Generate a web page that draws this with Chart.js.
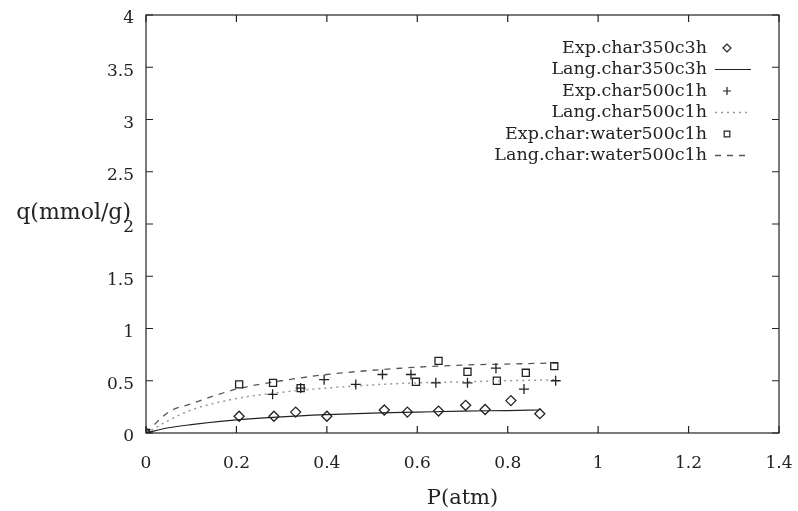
<!DOCTYPE html>
<html>
<head>
<meta charset="utf-8">
<script src="https://cdn.jsdelivr.net/npm/chart.js@4.4.1/dist/chart.umd.min.js"></script>
<style>
  html, body { margin: 0; padding: 0; background: #fff; }
  #chartContainer { width: 798px; height: 511px; }
</style>
</head>
<body>
<div id="chartContainer"><canvas id="chart"></canvas></div>
<script>
const expP350 = [0, 0.206, 0.283, 0.331, 0.40, 0.527, 0.578, 0.647, 0.707, 0.75, 0.807, 0.871];
const expQ350 = [0, 0.16, 0.16, 0.20, 0.16, 0.22, 0.20, 0.21, 0.265, 0.225, 0.31, 0.185];

const expP500 = [0, 0.28, 0.342, 0.394, 0.464, 0.523, 0.586, 0.641, 0.711, 0.774, 0.836, 0.906];
const expQ500 = [0, 0.37, 0.43, 0.51, 0.465, 0.56, 0.56, 0.48, 0.48, 0.62, 0.42, 0.50];

const expPWater = [0, 0.206, 0.281, 0.342, 0.597, 0.647, 0.711, 0.776, 0.84, 0.903];
const expQWater = [0, 0.465, 0.48, 0.43, 0.49, 0.69, 0.586, 0.50, 0.576, 0.64];

// Langmuir fit curves
const langP350 = [0, 0.05, 0.1, 0.2, 0.3, 0.4, 0.5, 0.6, 0.7, 0.8, 0.87];
const langQ350 = [0, 0.05, 0.08, 0.125, 0.155, 0.175, 0.19, 0.2, 0.21, 0.215, 0.22];

const langP500 = [0, 0.05, 0.1, 0.2, 0.3, 0.4, 0.5, 0.6, 0.7, 0.8, 0.91];
const langQ500 = [0, 0.12, 0.22, 0.33, 0.39, 0.43, 0.46, 0.48, 0.49, 0.50, 0.51];

const langPWater = [0, 0.05, 0.1, 0.2, 0.3, 0.4, 0.5, 0.6, 0.7, 0.8, 0.91];
const langQWater = [0, 0.2, 0.28, 0.42, 0.5, 0.56, 0.6, 0.63, 0.65, 0.66, 0.67];

const xTicks = [0, 0.2, 0.4, 0.6, 0.8, 1, 1.2, 1.4];
const yTicks = [0, 0.5, 1, 1.5, 2, 2.5, 3, 3.5, 4];

const serif = "'DejaVu Serif', 'Liberation Serif', serif";
const ink = "#222";

const pts = (xs, ys) => xs.map((x, i) => ({ x, y: ys[i] }));
const fmt = (v) => String(+v.toFixed(1));

const datasets = [
  {
    label: "Exp.char350c3h",
    data: pts(expP350, expQ350),
    showLine: false,
    pointStyle: "rectRot",
    pointRadius: 5,
    borderColor: ink,
    backgroundColor: "rgba(0,0,0,0)",
    borderWidth: 1.3,
  },
  {
    label: "Lang.char350c3h",
    data: pts(langP350, langQ350),
    showLine: true,
    pointRadius: 0,
    borderColor: ink,
    borderWidth: 1.2,
    cubicInterpolationMode: "monotone",
  },
  {
    label: "Exp.char500c1h",
    data: pts(expP500, expQ500),
    showLine: false,
    pointStyle: "cross",
    pointRadius: 5,
    borderColor: ink,
    borderWidth: 1.3,
  },
  {
    label: "Lang.char500c1h",
    data: pts(langP500, langQ500),
    showLine: true,
    pointRadius: 0,
    borderColor: "#999",
    borderWidth: 1.5,
    borderDash: [2, 4],
    cubicInterpolationMode: "monotone",
  },
  {
    label: "Exp.char:water500c1h",
    data: pts(expPWater, expQWater),
    showLine: false,
    pointStyle: "rect",
    pointRadius: 5,
    borderColor: ink,
    backgroundColor: "rgba(0,0,0,0)",
    borderWidth: 1.3,
  },
  {
    label: "Lang.char:water500c1h",
    data: pts(langPWater, langQWater),
    showLine: true,
    pointRadius: 0,
    borderColor: "#555",
    borderWidth: 1.3,
    borderDash: [6, 6],
    cubicInterpolationMode: "monotone",
  },
];

// Box with inward ticks, horizontal y title, legend on the right
const framePlugin = {
  id: "frame",
  afterDraw(chart) {
    const { ctx, chartArea: a, scales } = chart;
    ctx.save();
    ctx.strokeStyle = ink;
    ctx.lineWidth = 1.2;
    ctx.strokeRect(a.left, a.top, a.right - a.left, a.bottom - a.top);
    ctx.beginPath();
    xTicks.forEach((v) => {
      const px = scales.x.getPixelForValue(v);
      ctx.moveTo(px, a.bottom); ctx.lineTo(px, a.bottom - 7);
      ctx.moveTo(px, a.top); ctx.lineTo(px, a.top + 7);
    });
    yTicks.forEach((v) => {
      const py = scales.y.getPixelForValue(v);
      ctx.moveTo(a.left, py); ctx.lineTo(a.left + 7, py);
      ctx.moveTo(a.right, py); ctx.lineTo(a.right - 7, py);
    });
    ctx.stroke();

    // y axis title
    ctx.fillStyle = ink;
    ctx.font = "22px " + serif;
    ctx.textAlign = "right";
    ctx.textBaseline = "middle";
    ctx.fillText("q(mmol/g)", a.left - 15, scales.y.getPixelForValue(2.1));

    // legend
    ctx.font = "17.5px " + serif;
    const textRight = a.right - 72;
    const sampleX = a.right - 52;
    chart.data.datasets.forEach((ds, i) => {
      const y = a.top + 33 + i * 21.5;
      ctx.fillStyle = ink;
      ctx.fillText(ds.label, textRight, y);
      if (ds.showLine === false) {
        ctx.lineWidth = 1.2;
        ctx.strokeStyle = ink;
        ctx.fillStyle = "rgba(0,0,0,0)";
        Chart.helpers.drawPoint(ctx, { pointStyle: ds.pointStyle, radius: 4, borderWidth: 1.2 }, sampleX, y);
      } else {
        ctx.strokeStyle = ds.borderColor;
        ctx.lineWidth = ds.borderWidth;
        ctx.setLineDash(ds.borderDash || []);
        ctx.beginPath();
        ctx.moveTo(sampleX - 12, y);
        ctx.lineTo(sampleX + 24, y);
        ctx.stroke();
        ctx.setLineDash([]);
      }
    });
    ctx.restore();
  },
};

const ctx = document.getElementById("chart").getContext("2d");
new Chart(ctx, {
  type: "scatter",
  data: { datasets },
  options: {
    responsive: true,
    maintainAspectRatio: false,
    animation: false,
    layout: { padding: { top: 15, right: 19, left: 0, bottom: 0 } },
    plugins: {
      legend: { display: false },
      tooltip: { enabled: false },
    },
    scales: {
      x: {
        type: "linear",
        min: 0,
        max: 1.4,
        afterBuildTicks: (scale) => { scale.ticks = xTicks.map((v) => ({ value: v })); },
        afterFit: (scale) => {
          scale.height = 78;
          scale.paddingLeft = 0;
          scale.paddingRight = 0;
        },
        grid: { display: false, drawTicks: false },
        border: { display: false },
        ticks: { color: ink, padding: 20, font: { family: serif, size: 17 }, callback: fmt },
        title: {
          display: true,
          text: "P(atm)",
          color: ink,
          padding: { top: 0, bottom: 0 },
          font: { family: serif, size: 21 },
        },
      },
      y: {
        type: "linear",
        min: 0,
        max: 4,
        afterBuildTicks: (scale) => { scale.ticks = yTicks.map((v) => ({ value: v })); },
        afterFit: (scale) => {
          scale.width = 146;
          scale.paddingTop = 0;
          scale.paddingBottom = 0;
        },
        grid: { display: false, drawTicks: false },
        border: { display: false },
        ticks: { color: ink, padding: 12, labelOffset: 4, font: { family: serif, size: 17 }, callback: fmt },
      },
    },
  },
  plugins: [framePlugin],
});
</script>
</body>
</html>
